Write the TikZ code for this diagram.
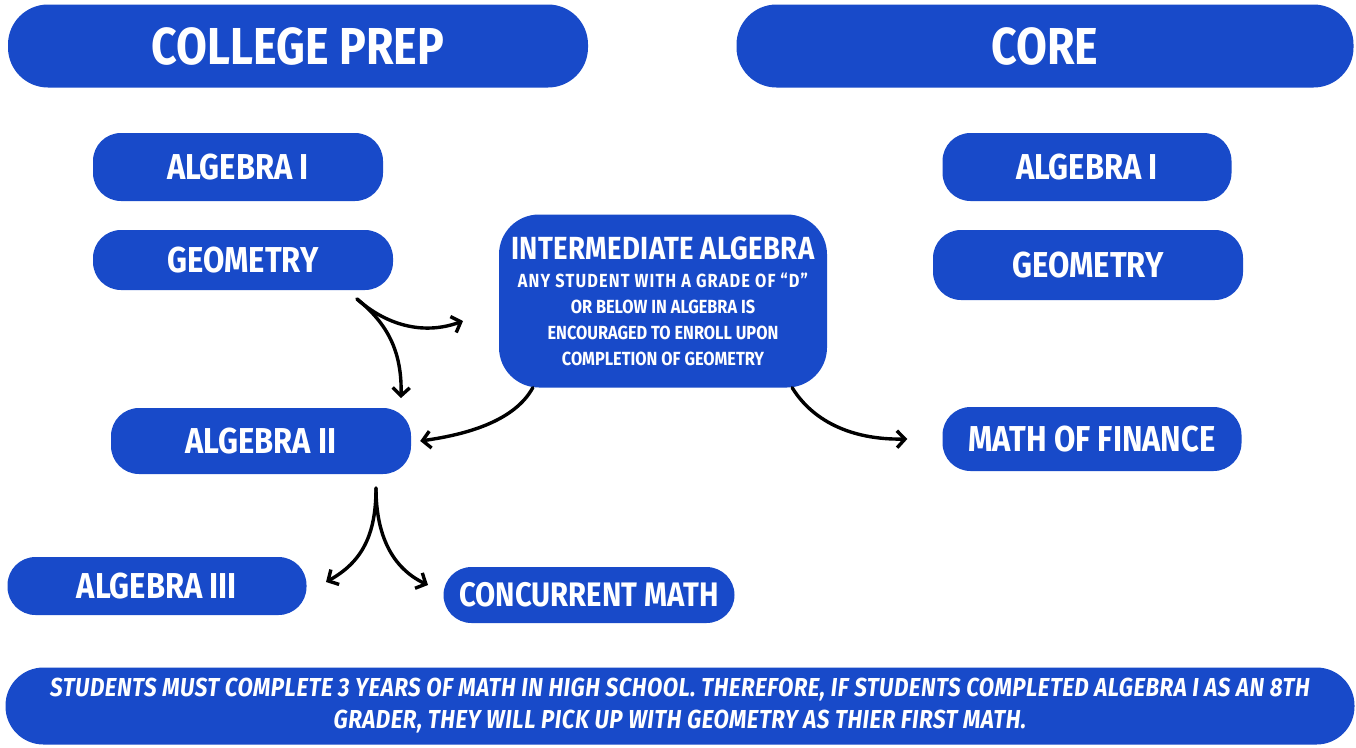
\documentclass[tikz,border=0pt]{standalone}
\usepackage{fontspec}
\setmainfont{Fira Sans}[FakeStretch=0.86]
\usetikzlibrary{arrows.meta, positioning, calc}
\definecolor{pillblue}{RGB}{24,74,201}
\tikzset{
  pill/.style={fill=pillblue, text=white, inner sep=0pt, align=center},
  headpill/.style={pill, rounded corners=40pt, font=\fontsize{52}{56}\selectfont\bfseries},
  coursepill/.style={pill, rounded corners=28pt, font=\fontsize{36}{40}\selectfont\bfseries},
  flow/.style={line width=3.4pt, line cap=round, -{Straight Barb[length=8pt,width=17pt]}}
}

\begin{document}
\begin{tikzpicture}[x=1pt, y=-1pt]
    \useasboundingbox[fill=white] (0,0) rectangle (1356,747);

    % Titres
    \node[headpill, minimum width=580, minimum height=83] (cpHead) at (298,46) {COLLEGE PREP};
    \node[headpill, minimum width=617, minimum height=83] (coreHead) at (1045,46) {CORE};

    % === COLLEGE PREP ===
    \node[coursepill, minimum width=290, minimum height=68] (cpAlgOne) at (238,167) {ALGEBRA I};
    \node[coursepill, minimum width=300, minimum height=60] (cpGeo) at (243,260) {GEOMETRY};
    \node[coursepill, minimum width=300, minimum height=66] (cpAlgTwo) at (261,441) {ALGEBRA II};
    \node[coursepill, minimum width=299, minimum height=58] (cpAlgThree) at (157,586) {ALGEBRA III};
    \node[coursepill, minimum width=291, minimum height=56, font=\fontsize{34}{36}\selectfont\bfseries] (concMath) at (589,595) {CONCURRENT MATH};

    % Intermediate algebra
    \node[pill, rounded corners=40pt, minimum width=328, minimum height=173,
          font=\fontsize{19}{26}\selectfont\bfseries] (interAlg) at (663,301) {%
        \fontsize{32}{34}\selectfont\addfontfeatures{LetterSpace=1} INTERMEDIATE ALGEBRA\\[2pt]
        \fontsize{19}{26}\selectfont\addfontfeatures{LetterSpace=6} ANY STUDENT WITH A GRADE OF “D”\\
        OR BELOW IN ALGEBRA IS\\
        ENCOURAGED TO ENROLL UPON\\
        COMPLETION OF GEOMETRY};

    % === CORE ===
    \node[coursepill, minimum width=289, minimum height=68] (coreAlgOne) at (1087,167) {ALGEBRA I};
    \node[coursepill, minimum width=310, minimum height=70] (coreGeo) at (1088,265) {GEOMETRY};
    \node[coursepill, minimum width=299, minimum height=64] (mathFin) at (1092,439) {MATH OF FINANCE};

    % Note
    \node[pill, rounded corners=38pt, minimum width=1349, minimum height=77,
          font=\fontsize{26}{32}\selectfont\bfseries\itshape\addfontfeatures{LetterSpace=2}] (note) at (680,706)
        {STUDENTS MUST COMPLETE 3 YEARS OF MATH IN HIGH SCHOOL. THEREFORE, IF STUDENTS COMPLETED ALGEBRA I AS AN 8TH\\
         GRADER, THEY WILL PICK UP WITH GEOMETRY AS THIER FIRST MATH.};

    % Fleches
    \coordinate (geoFork) at (357,299);
    \coordinate (interIn) at (463,321);
    \coordinate (algTwoIn) at (401,398);
    \coordinate (algTwoFork) at (376,488);
    \coordinate (algThreeIn) at (326,582);
    \coordinate (concIn) at (428,585);

    \draw[flow] (geoFork) .. controls (385,324) and (422,336) .. (interIn);
    \draw[flow] (geoFork) .. controls (388,324) and (402,352) .. (algTwoIn);
    \draw[flow] ([xshift=34pt]interAlg.south west) .. controls (515,420) and (470,434) .. ([xshift=9pt]cpAlgTwo.east);
    \draw[flow] ([xshift=-35pt]interAlg.south east) .. controls (812,420) and (850,440) .. ([xshift=-35pt]mathFin.west);
    \draw[flow] (algTwoFork) .. controls (376,535) and (362,562) .. (algThreeIn);
    \draw[flow] (algTwoFork) .. controls (376,535) and (392,568) .. (concIn);
\end{tikzpicture}
\end{document}
